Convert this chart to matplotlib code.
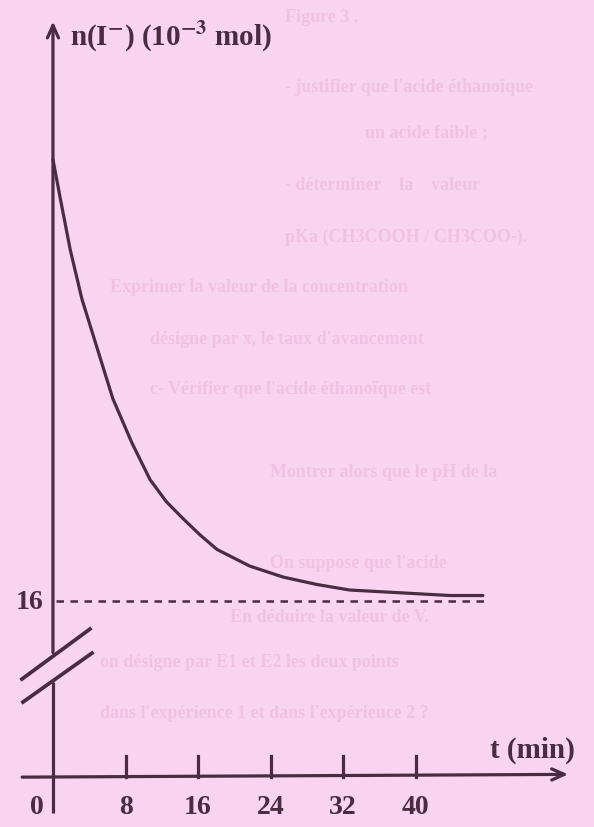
import matplotlib
matplotlib.use("Agg")
import matplotlib.pyplot as plt

# curve n(I-) (10^-3 mol vs min)
t_min = [0, 0.8, 1.9, 3.2, 4.9, 6.6, 8.7, 10.7, 12.5, 14.3, 16.2, 18.1, 21.7,
         25.4, 29.1, 32.7, 36.4, 40.1, 43.8, 47.4]
n_iodide = [40.0, 37.9, 35.1, 32.4, 29.7, 27.0, 24.6, 22.6, 21.4, 20.5, 19.6,
            18.8, 17.9, 17.3, 16.9, 16.6, 16.5, 16.4, 16.3, 16.3]
x_ticks = [8, 16, 24, 32, 40]
n_final = 16

ink = "#4a2c42"
bg = "#f9d4f0"
ghost = "#efc2e3"
plt.rcParams["font.family"] = ["Liberation Serif", "DejaVu Serif"]
plt.rcParams["mathtext.fontset"] = "stix"

fig = plt.figure(figsize=(5.94, 8.28), dpi=100, facecolor=bg)

# faint text showing through from the other side of the page
ghost_lines = [
    (285, 17, "Figure 3 ."),
    (285, 88, "- justifier que l'acide éthanoïque"),
    (365, 133, "un acide faible ;"),
    (285, 185, "- déterminer    la    valeur"),
    (285, 237, "pKa (CH3COOH / CH3COO-)."),
    (110, 287, "Exprimer la valeur de la concentration"),
    (150, 340, "désigne par x, le taux d'avancement"),
    (150, 390, "c- Vérifier que l'acide éthanoïque est"),
    (270, 473, "Montrer alors que le pH de la"),
    (270, 563, "On suppose que l'acide"),
    (230, 618, "En déduire la valeur de V."),
    (100, 663, "on désigne par E1 et E2 les deux points"),
    (100, 713, "dans l'expérience 1 et dans l'expérience 2 ?"),
]
for gx, gy, s in ghost_lines:
    fig.text(gx / 594, 1 - gy / 828, s, fontsize=13, color=ghost,
             va="center", ha="left", fontweight="bold", zorder=0)

ax = fig.add_axes([0, 0, 1, 1])
ax.set_facecolor("none")
ax.set_xlim(-5.84, 59.65)
ax.set_ylim(3.72, 48.72)
ax.axis("off")

lw = 2.3
x_axis_y = 6.43
# x axis with arrow
ax.annotate("", xy=(56.8, x_axis_y + 0.15), xytext=(-3.4, x_axis_y),
            arrowprops=dict(arrowstyle="->,head_length=0.9,head_width=0.4",
                            lw=lw, color=ink, shrinkA=0, shrinkB=0))
# y axis (upper part with arrow, lower part below the break)
ax.annotate("", xy=(0, 47.5), xytext=(0, 13.2),
            arrowprops=dict(arrowstyle="->,head_length=0.9,head_width=0.4",
                            lw=lw, color=ink, shrinkA=0, shrinkB=0))
ax.plot([0, 0], [11.6, 4.5], color=ink, lw=lw, solid_capstyle="butt")
# break marks
ax.plot([-3.42, 4.08], [11.76, 14.48], color=ink, lw=lw + 0.4)
ax.plot([-3.31, 4.30], [10.51, 13.17], color=ink, lw=lw + 0.4)

for xt in x_ticks:
    ax.plot([xt, xt], [x_axis_y, x_axis_y + 1.15], color=ink, lw=lw)
    ax.text(xt, 4.86, str(xt), ha="center", va="center", fontsize=20,
            fontweight="bold", color=ink)
ax.text(-1.0, 4.86, "0", ha="right", va="center", fontsize=20,
        fontweight="bold", color=ink)

# asymptote
ax.plot([0.3, 47.5], [n_final, n_final], color=ink, lw=1.8,
        linestyle=(0, (3, 2.6)))
ax.text(-1.0, n_final, str(n_final), ha="right", va="center", fontsize=20,
        fontweight="bold", color=ink)

ax.plot(t_min, n_iodide, color=ink, lw=lw, solid_capstyle="round",
        solid_joinstyle="round")

ax.text(1.9, 46.7, r"n(I$^{\mathbf{-}}$) (10$^{\mathbf{-3}}$ mol)", ha="left",
        va="center", fontsize=21, fontweight="bold", color=ink)
ax.text(52.9, 7.96, "t (min)", ha="center", va="center", fontsize=21,
        fontweight="bold", color=ink)

fig.savefig("out.png", dpi=100, facecolor=bg)
